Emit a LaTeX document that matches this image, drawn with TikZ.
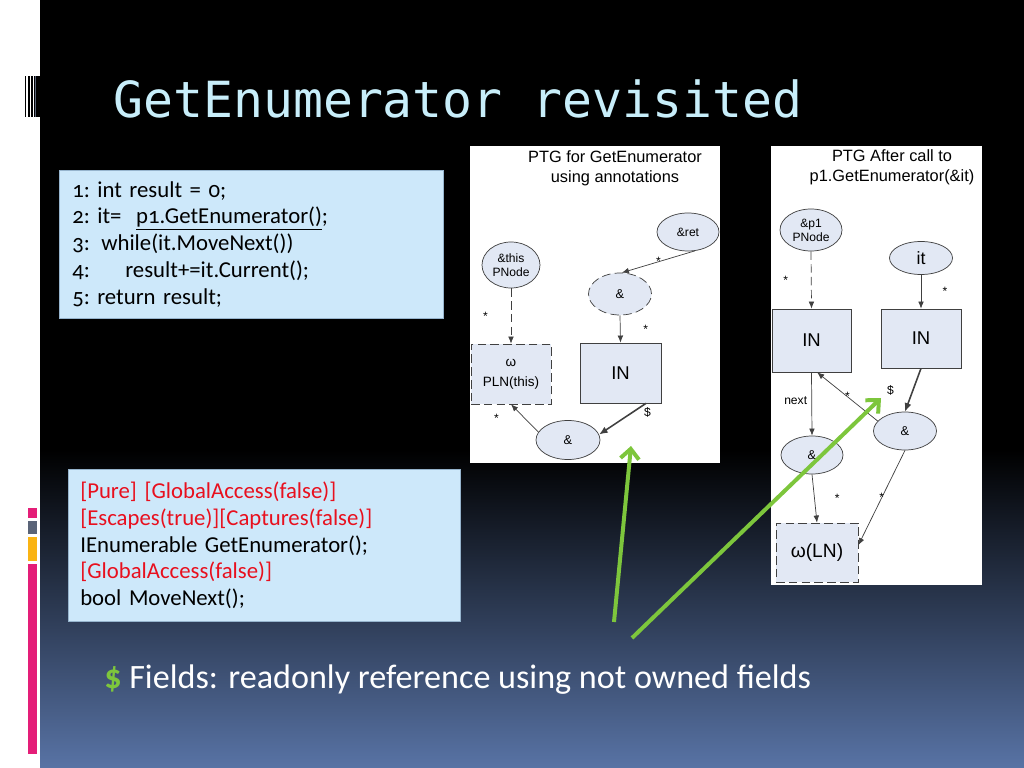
\documentclass[tikz,border=0pt]{standalone}
\usepackage{fontspec}
\setmainfont{Carlito}[Numbers=OldStyle]
\newfontfamily\ptgfont{Liberation Sans}
\newfontfamily\titlefont{DejaVu Sans Mono}
\usepackage{xcolor}
\usetikzlibrary{shapes.geometric}
\usetikzlibrary{arrows.meta}

\definecolor{titleblue}{RGB}{200,238,250}
\definecolor{boxblue}{RGB}{205,232,250}
\definecolor{boxline}{RGB}{150,180,205}
\definecolor{annred}{RGB}{232,16,30}
\definecolor{ptgfill}{RGB}{226,232,244}
\definecolor{ptgline}{RGB}{64,64,64}
\definecolor{arrowgreen}{RGB}{125,198,60}
\definecolor{bgblue}{RGB}{88,115,165}
\definecolor{barpink}{RGB}{228,30,120}
\definecolor{bargray}{RGB}{90,100,120}
\definecolor{barorange}{RGB}{250,180,20}

\tikzset{
	ptgell/.style 2 args={ellipse, draw=ptgline, fill=ptgfill, line width=0.5pt, minimum width=#1*0.703125pt, minimum height=#2*0.703125pt, inner sep=0pt, align=center, font=\ptgfont\fontsize{8.5}{10}\selectfont},
	ptgbox/.style 2 args={rectangle, draw=ptgline, fill=ptgfill, line width=0.5pt, minimum width=#1*0.703125pt, minimum height=#2*0.703125pt, inner sep=0pt, align=center, font=\ptgfont\fontsize{13}{15}\selectfont},
	dashedline/.style={dash pattern=on 6pt off 3pt},
	ptgarrow/.style={draw=ptgline, line width=0.5pt, -{Latex[length=5pt,width=4pt]}},
	heavyarrow/.style={ptgarrow, line width=1.1pt, -{Latex[length=6pt,width=5pt]}},
	ptglabel/.style={font=\ptgfont\fontsize{8.5}{10}\selectfont, inner sep=1pt},
	ptgtitle/.style={align=center, font=\ptgfont\fontsize{11.5}{14}\selectfont},
	greenarrow/.style={draw=arrowgreen, line width=2.8pt, -{Straight Barb[length=7pt,width=13pt]}},
	codebox/.style={draw=boxline, fill=boxblue, line width=0.4pt, anchor=north west, align=left, font=\fontsize{16}{18.8}\selectfont}
}

\begin{document}
\begin{tikzpicture}[x=0.703125pt, y=-0.703125pt]
	\useasboundingbox (0, 0) rectangle (1024, 768);
	\fill[white] (0, 0) rectangle (40, 768);
	\fill[black] (40, 0) rectangle (1024, 450);
	\shade[top color=black, bottom color=bgblue] (40, 450) rectangle (1024, 768);
	\foreach \a/\b in {25/26, 28.3/29.5, 31/33.3, 34.3/34.8, 35.7/40}
		\fill[black] (\a, 76) rectangle (\b, 117);
	\fill[bargray] (34.8, 76) rectangle (35.7, 117);
	\fill[barpink] (28, 508) rectangle (37, 518);
	\fill[bargray] (28, 521) rectangle (37, 534);
	\fill[barorange] (28, 537) rectangle (37, 561);
	\fill[barpink] (28, 564) rectangle (37, 754);

	\node[anchor=base west, text=titleblue, inner sep=0pt, font=\titlefont\fontsize{35}{40}\selectfont] (title) at (113, 118) {GetEnumerator revisited};

	\node[codebox, minimum width=384*0.703125pt, minimum height=148*0.703125pt, text width=358*0.703125pt, inner xsep=13*0.703125pt] (code) at (59, 170) {\makebox[17.6pt][l]{1:}int result = 0;\\
		\makebox[17.6pt][l]{2:}it=\hspace{5pt} \underline{p1.GetEnumerator()};\\
		\makebox[20.4pt][l]{3:}while(it.MoveNext())\\
		\makebox[37.3pt][l]{4:}result+=it.Current();\\
		\makebox[17.6pt][l]{5:}return result;};

	\node[codebox, minimum width=392*0.703125pt, minimum height=152*0.703125pt, text width=368*0.703125pt, inner xsep=12*0.703125pt] (annot) at (68, 469) {\textcolor{annred}{[Pure] [GlobalAccess(false)]}\\
		\textcolor{annred}{[Escapes(true)][Captures(false)]}\\
		IEnumerable GetEnumerator();\\
		\textcolor{annred}{[GlobalAccess(false)]}\\
		bool MoveNext();};

	\fill[white] (470, 146) rectangle (720, 463);
	\fill[white] (771, 146) rectangle (982, 585);

	\node[ptgtitle] (ptgone) at (615, 168) {PTG for GetEnumerator\\using annotations};
	\node[ptgell={62}{38}] (ret) at (688, 232) {\&ret};
	\node[ptgell={58}{46}] (this) at (511, 265) {\&this\\PNode};
	\node[ptgell={63}{42}, dashedline, font=\ptgfont\fontsize{9}{10}\selectfont] (ampone) at (620, 294) {\&};
	\node[ptgbox={80}{60}, dashedline, font=\ptgfont\fontsize{9.5}{14}\selectfont] (plnthis) at (511, 374) {ω\\PLN(this)};
	\node[ptgbox={81}{60}] (inone) at (620.5, 373) {IN};
	\node[ptgell={64}{39}, font=\ptgfont\fontsize{9}{10}\selectfont] (amptwo) at (568, 440) {\&};

	\draw[ptgarrow] (ret.-70) -- node[ptglabel, midway] (sret) {*} (ampone.85);
	\draw[ptgarrow, dashedline] (this.south) -- node[ptglabel, midway, left=15pt] (sthis) {*} (plnthis.north);
	\draw[ptgarrow] (ampone.south) -- node[ptglabel, midway, right=15pt] (sampone) {*} (inone.north);
	\draw[heavyarrow] (inone.-50) -- node[ptglabel, pos=0.3, right=7pt] (dollarone) {\$} (amptwo.10);
	\draw[ptgarrow] (amptwo.165) -- node[ptglabel, midway, left=17pt] (samptwo) {*} (plnthis.south);

	\node[ptgtitle] (ptgtwo) at (892, 167) {PTG After call to\\p1.GetEnumerator(\&it)};
	\node[ptgell={62}{42}] (pone) at (811, 230) {\&p1\\PNode};
	\node[ptgell={63}{33}, font=\ptgfont\fontsize{12.5}{14}\selectfont] (it) at (921, 258) {it};
	\node[ptgbox={79}{63}] (inleft) at (811.5, 340.5) {IN};
	\node[ptgbox={80}{59}] (inright) at (921, 338.5) {IN};
	\node[ptgell={62}{38}, font=\ptgfont\fontsize{9}{10}\selectfont] (ampleft) at (812, 455) {\&};
	\node[ptgell={63}{38}, font=\ptgfont\fontsize{9}{10}\selectfont] (ampright) at (905, 431) {\&};
	\node[ptgbox={82}{59}, dashedline, font=\ptgfont\fontsize{13.5}{15}\selectfont] (omegaln) at (817, 552.5) {ω(LN)};

	\draw[ptgarrow, dashedline] (pone.south) -- node[ptglabel, midway, left=15pt] (spone) {*} (inleft.north);
	\draw[ptgarrow] (it.south) -- node[ptglabel, midway, right=14pt] (sit) {*} (inright.north);
	\draw[ptgarrow] (inleft.south) -- node[ptglabel, pos=0.45, left=2pt] (next) {next} (ampleft.north);
	\draw[heavyarrow] (inright.south) -- node[ptglabel, midway, left=12pt] (dollartwo) {\$} (ampright.north);
	\draw[ptgarrow] (ampright.160) -- node[ptglabel, midway] (sback) {*} (inleft.-80);
	\draw[ptgarrow] (ampleft.south) -- node[ptglabel, midway, right=13pt] (sampleft) {*} (omegaln.north);
	\draw[ptgarrow] (ampright.south) -- node[ptglabel, midway] (sampright) {*} (omegaln.10);

	\node[anchor=base west, text=white, inner sep=0pt, font=\fontsize{24}{30}\selectfont] (fields) at (104, 688) {\textcolor{arrowgreen}{\textbf{\$}} Fields: readonly reference using not owned fields};

	\coordinate (gonefrom) at (614, 622);
	\coordinate (goneto) at (631, 446);
	\coordinate (gtwofrom) at (632, 638);
	\coordinate (gtwoto) at (881, 398);
	\draw[greenarrow] (gonefrom) -- (goneto);
	\draw[greenarrow] (gtwofrom) -- (gtwoto);
\end{tikzpicture}
\end{document}
